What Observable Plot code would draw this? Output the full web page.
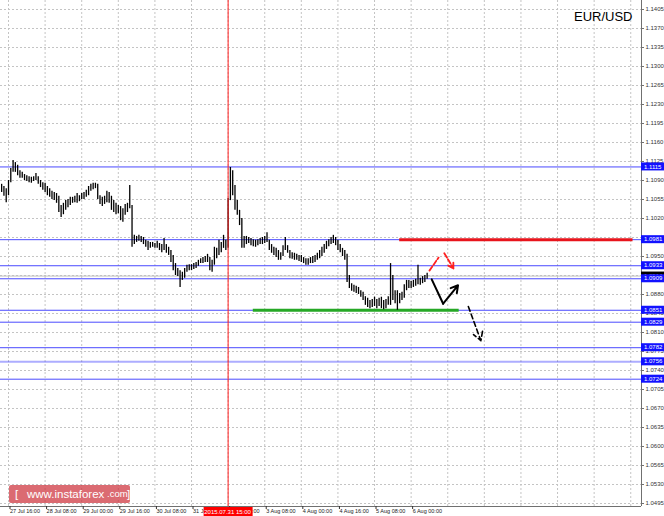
<!DOCTYPE html>
<html><head><meta charset="utf-8">
<script src="https://cdn.jsdelivr.net/npm/d3@7"></script>
<script src="https://cdn.jsdelivr.net/npm/@observablehq/plot@0.6"></script>
<style>
body{margin:0;background:#fff;}
#wrap{position:relative;width:664px;height:516px;overflow:hidden;font-family:"Liberation Sans",Arial,sans-serif;}
#wm{position:absolute;left:9px;top:485px;width:121px;height:18px;background:rgba(205,50,60,0.72);border-radius:2px;color:#fff;font-size:11.5px;line-height:18px;white-space:nowrap;}
#wm span{position:absolute;top:0;}
</style></head>
<body><div id="wrap"><div id="chart"></div>
<div id="wm"><span style="left:6px">[</span><span style="left:18px">www.instaforex</span><span style="left:98px;font-size:9.5px">.com</span><span style="left:118px">]</span></div>
</div>
<script>
// hourly bar index: 0 = 27 Jul 16:00 (weekend hours skipped)
const barStart = -4;
const high = [1.1086,1.1083,1.1079,1.1075,1.1090,1.1112,1.1127,1.1123,1.1118,1.1108,
1.1105,1.1101,1.1099,1.1097,1.1096,1.1097,1.1103,1.1097,1.1090,1.1086,
1.1085,1.1079,1.1075,1.1070,1.1068,1.1066,1.1061,1.1044,1.1048,1.1053,
1.1055,1.1059,1.1059,1.1061,1.1066,1.1062,1.1066,1.1068,1.1072,1.1079,
1.1083,1.1085,1.1085,1.1083,1.1062,1.1059,1.1061,1.1070,1.1068,1.1061,
1.1053,1.1048,1.1044,1.1042,1.1038,1.1046,1.1048,1.1081,1.1044,1.0989,
1.0987,1.0989,1.0987,1.0985,1.0980,1.0978,1.0976,1.0976,1.0974,1.0978,
1.0974,1.0972,1.0983,1.0972,1.0967,1.0961,1.0952,1.0937,1.0928,1.0924,
1.0921,1.0928,1.0934,1.0935,1.0935,1.0937,1.0939,1.0943,1.0946,1.0948,
1.0950,1.0954,1.0948,1.0943,1.0967,1.0965,1.0980,1.0976,1.0989,1.0980,
1.1057,1.1114,1.1108,1.1081,1.1053,1.1035,1.1020,1.0987,1.0987,1.0985,
1.0983,1.0981,1.0980,1.0981,1.0983,1.0985,1.0987,1.0994,1.0980,1.0972,
1.0967,1.0965,1.0961,1.0957,1.0970,1.0985,1.0970,1.0961,1.0957,1.0956,
1.0954,1.0952,1.0952,1.0948,1.0946,1.0946,1.0948,1.0950,1.0952,1.0956,
1.0961,1.0967,1.0972,1.0978,1.0981,1.0985,1.0989,1.0985,1.0980,1.0972,
1.0965,1.0961,1.0954,1.0915,1.0900,1.0897,1.0895,1.0893,1.0887,1.0884,
1.0876,1.0873,1.0869,1.0871,1.0875,1.0871,1.0873,1.0875,1.0869,1.0871,
1.0876,1.0937,1.0915,1.0887,1.0887,1.0882,1.0884,1.0898,1.0906,1.0906,
1.0904,1.0906,1.0908,1.0934,1.0910,1.0913,1.0915,1.0919];
const low = [1.1072,1.1068,1.1061,1.1049,1.1062,1.1086,1.1105,1.1105,1.1099,1.1094,
1.1094,1.1090,1.1088,1.1086,1.1085,1.1088,1.1090,1.1083,1.1077,1.1072,
1.1068,1.1062,1.1059,1.1055,1.1053,1.1048,1.1031,1.1022,1.1027,1.1035,
1.1040,1.1044,1.1048,1.1049,1.1048,1.1051,1.1055,1.1055,1.1059,1.1062,
1.1070,1.1073,1.1075,1.1055,1.1046,1.1042,1.1046,1.1049,1.1048,1.1035,
1.1031,1.1027,1.1029,1.1016,1.1013,1.1026,1.1031,1.1038,1.0967,1.0972,
1.0976,1.0978,1.0976,1.0972,1.0967,1.0961,1.0965,1.0967,1.0965,1.0965,
1.0961,1.0957,1.0961,1.0956,1.0952,1.0939,1.0924,1.0915,1.0913,1.0893,
1.0906,1.0910,1.0921,1.0924,1.0924,1.0926,1.0928,1.0932,1.0937,1.0937,
1.0939,1.0939,1.0924,1.0921,1.0934,1.0946,1.0952,1.0957,1.0965,1.0961,
1.0965,1.1053,1.1062,1.1035,1.1026,1.1007,1.0965,1.0965,1.0972,1.0974,
1.0970,1.0968,1.0967,1.0970,1.0972,1.0972,1.0974,1.0976,1.0961,1.0956,
1.0952,1.0948,1.0943,1.0943,1.0950,1.0961,1.0956,1.0946,1.0945,1.0943,
1.0943,1.0941,1.0939,1.0937,1.0934,1.0934,1.0937,1.0937,1.0939,1.0943,
1.0946,1.0950,1.0956,1.0963,1.0968,1.0972,1.0974,1.0970,1.0961,1.0957,
1.0950,1.0943,1.0902,1.0891,1.0886,1.0884,1.0882,1.0880,1.0875,1.0869,
1.0860,1.0856,1.0854,1.0856,1.0858,1.0854,1.0858,1.0854,1.0852,1.0854,
1.0860,1.0860,1.0869,1.0863,1.0851,1.0863,1.0869,1.0873,1.0887,1.0891,
1.0891,1.0893,1.0895,1.0898,1.0897,1.0900,1.0902,1.0908];

const levels = [1.1115, 1.0981, 1.0933, 1.0909, 1.0851, 1.0829, 1.0782, 1.0756, 1.0724];
const bidPrice = 1.0914;
const resistance = {t1: 171, t2: 273, p: 1.0981};
const support = {t1: 107, t2: 197, p: 1.0851};
const markTime = 96;
const markLabel = "2015.07.31 15:00";
const yGrid = [1.1405,1.1370,1.1335,1.1300,1.1265,1.1230,1.1195,1.1160,1.1125,1.1090,1.1055,1.1020,1.0985,1.0950,1.0915,1.0880,1.0845,1.0810,1.0775,1.0740,1.0705,1.0670,1.0635,1.0600,1.0565,1.0530,1.0495];
// tick labels not hidden behind the price boxes
const yTickLabels = [1.1405,1.1370,1.1335,1.1300,1.1265,1.1230,1.1195,1.1160,1.1125,1.1090,1.1055,1.1020,1.0950,1.0880,1.0845,1.0810,1.0775,1.0740,1.0705,1.0670,1.0635,1.0600,1.0565,1.0530,1.0495];
const xTicks = [0,16,32,48,64,80,96,112,128,144,160,176];
const xLabels = ["27 Jul 16:00","28 Jul 08:00","29 Jul 00:00","29 Jul 16:00","30 Jul 08:00","31 Jul 00:00","31 Jul 16:00","3 Aug 08:00","4 Aug 00:00","4 Aug 16:00","5 Aug 08:00","6 Aug 00:00"];
const xGrid = [0,16,32,48,64,80,96,112,128,144,160,176,192,208,224,240,256,272];
// analyst drawings (bar index, price)
const redUp = [{t:184, p:1.0924},{t:188, p:1.0948}];
const redDown = [{t1:190.5, p1:1.0956, t2:194.5, p2:1.0928}];
const blackDown = [{t:185, p:1.0908},{t:190, p:1.0863}];
const blackUp = [{t1:190, p1:1.0863, t2:196.5, p2:1.0897}];
const blackDash = [{t1:201, p1:1.0858, t2:206.5, p2:1.0795}];

const bars = high.map((h, k) => ({t: barStart + k, hi: h, lo: low[k]}));

function priceBoxes(index, scales, values, dims) {
  const g = d3.create("svg:g").attr("font-size", 6).attr("text-anchor", "start");
  const xr = dims.width - dims.marginRight;
  const items = [{v: bidPrice, fill: "#000"}, ...levels.map(v => ({v, fill: "#1212ff"}))];
  for (const d of items) {
    const y = scales.y(d.v);
    g.append("rect").attr("x", xr).attr("y", y - 4).attr("width", 23).attr("height", 8).attr("fill", d.fill);
    g.append("text").attr("x", xr + 3).attr("y", y).attr("dy", "0.35em").attr("text-anchor", "start").attr("fill", "#fff").text(d.v.toFixed(4));
  }
  return g.node();
}
function timeBox(index, scales, values, dims) {
  const g = d3.create("svg:g").attr("font-size", 6);
  const x = scales.x(markTime);
  const yb = dims.height - dims.marginBottom;
  g.append("rect").attr("x", x - 24).attr("y", yb + 1).attr("width", 49).attr("height", 9).attr("fill", "#f00");
  g.append("text").attr("x", x).attr("y", yb + 5.5).attr("dy", "0.35em").attr("text-anchor", "middle").attr("fill", "#fff").text(markLabel);
  return g.node();
}

const chart = Plot.plot({
  width: 664, height: 516,
  marginLeft: 0, marginRight: 23, marginTop: 0, marginBottom: 10,
  x: {type: "linear", domain: [-3.5, 276.7], axis: null},
  y: {domain: [1.04895, 1.14216], axis: null},
  style: {fontFamily: "Liberation Sans, Arial, sans-serif", background: "white", overflow: "visible"},
  marks: [
    Plot.gridY(yGrid, {stroke: "#c4c4c4", strokeOpacity: 1, strokeDasharray: "2,2"}),
    Plot.gridX(xGrid, {stroke: "#c4c4c4", strokeOpacity: 1, strokeDasharray: "2,2"}),
    Plot.ruleY([bidPrice], {stroke: "#c0c0c0"}),
    Plot.ruleY(levels, {stroke: "#4a4aff", strokeWidth: d => d === 1.0756 ? 2 : 1, strokeOpacity: d => d === 1.0756 ? 0.45 : 1}),
    Plot.ruleY([resistance], {y: "p", x1: "t1", x2: "t2", stroke: "#e8141c", strokeWidth: 3}),
    Plot.ruleY([support], {y: "p", x1: "t1", x2: "t2", stroke: "#26a826", strokeWidth: 3}),
    Plot.ruleX(bars, {x: "t", y1: "lo", y2: "hi", stroke: "#000", strokeWidth: 1.3}),
    Plot.ruleX([markTime], {stroke: "#ff2020", strokeWidth: 1}),
    Plot.line(redUp, {x: "t", y: "p", stroke: "#ff2020", strokeWidth: 1.8, strokeDasharray: "5,2"}),
    Plot.arrow(redDown, {x1: "t1", y1: "p1", x2: "t2", y2: "p2", stroke: "#ff2020", strokeWidth: 1.8, strokeDasharray: "5,2", headLength: 9}),
    Plot.line(blackDown, {x: "t", y: "p", stroke: "#000", strokeWidth: 2}),
    Plot.arrow(blackUp, {x1: "t1", y1: "p1", x2: "t2", y2: "p2", stroke: "#000", strokeWidth: 2, headLength: 9}),
    Plot.arrow(blackDash, {x1: "t1", y1: "p1", x2: "t2", y2: "p2", stroke: "#000", strokeWidth: 1.6, strokeDasharray: "5,3", headLength: 9}),
    Plot.ruleX([276.7], {stroke: "#707070"}),
    Plot.ruleY([1.04895], {stroke: "#707070"}),
    Plot.axisY(yTickLabels, {anchor: "right", tickSize: 2, tickPadding: 2, fontSize: 6, tickFormat: d => d.toFixed(4), stroke: "#707070", fill: "#333"}),
    Plot.axisX(xTicks, {anchor: "bottom", tickSize: 3, tickPadding: 0, fontSize: 5.5, textAnchor: "start", dx: 1.5, tickFormat: d => xLabels[xTicks.indexOf(d)], stroke: "#333", fill: "#222"}),
    priceBoxes,
    timeBox,
    Plot.text(["EUR/USD"], {frameAnchor: "top-right", dx: -9, dy: 11, fontSize: 13, fill: "#000", textAnchor: "end", lineAnchor: "top"})
  ]
});
document.getElementById("chart").appendChild(chart);
</script>
</body></html>
